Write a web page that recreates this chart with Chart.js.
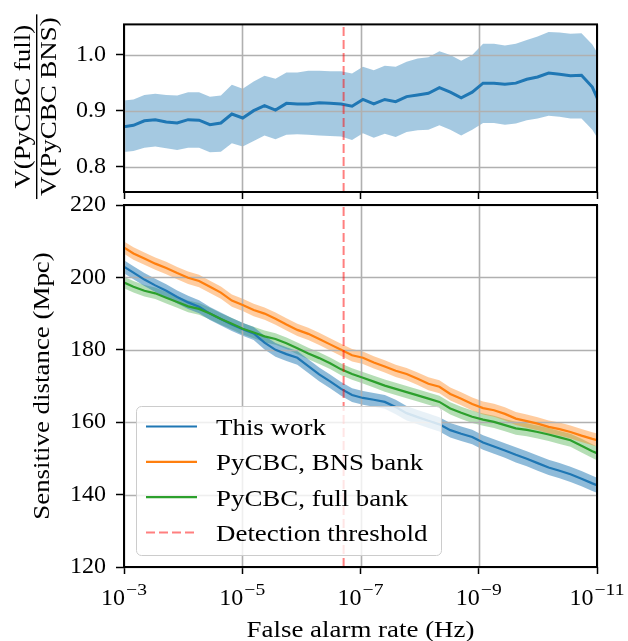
<!DOCTYPE html>
<html>
<head>
<meta charset="utf-8">
<script src="https://cdn.jsdelivr.net/npm/chart.js@4.4.1/dist/chart.umd.min.js"></script>
<style>
  html, body { margin: 0; padding: 0; background: #fff; }
  #wrap { position: relative; width: 628px; height: 641px; }
  #wrap canvas { position: absolute; left: 0; top: 0; }
</style>
</head>
<body>
<div id="wrap">
  <canvas id="ratio" width="628" height="641"></canvas>
  <canvas id="distance" width="628" height="641"></canvas>
</div>
<script>
const SERIF = '"Liberation Serif", "Times New Roman", serif';
const STRETCH = 1.17; // widen the serif text a bit so it sits like the TeX labels

// false alarm rates the curves are sampled at (Hz)
const farHz = [
  1.059e-3, 6.92e-4, 4.52e-4, 2.96e-4, 1.93e-4, 1.26e-4, 8.24e-5, 5.38e-5, 3.52e-5, 2.30e-5,
  1.50e-5, 9.82e-6, 6.41e-6, 4.20e-6, 2.74e-6, 1.79e-6, 1.17e-6, 7.64e-7, 5.00e-7, 3.27e-7,
  2.13e-7, 1.39e-7, 9.10e-8, 5.96e-8, 3.89e-8, 2.54e-8, 1.66e-8, 1.08e-8, 7.10e-9, 4.63e-9,
  3.03e-9, 1.98e-9, 1.29e-9, 8.45e-10, 5.52e-10, 3.61e-10, 2.36e-10, 1.54e-10, 1.01e-10, 6.58e-11,
  4.30e-11, 2.81e-11, 1.83e-11, 1.20e-11, 7.83e-12
];

// sensitive volume ratio, full bank over BNS bank
const ratioMid = [
  0.871, 0.874, 0.882, 0.884, 0.880, 0.878, 0.884, 0.883, 0.875, 0.878,
  0.894, 0.887, 0.900, 0.909, 0.901, 0.913, 0.912, 0.912, 0.914, 0.913,
  0.912, 0.908, 0.920, 0.912, 0.920, 0.916, 0.925, 0.928, 0.931, 0.941,
  0.933, 0.923, 0.933, 0.949, 0.949, 0.947, 0.949, 0.956, 0.960, 0.967,
  0.965, 0.962, 0.963, 0.942, 0.898
];
const ratioLow = [
  0.826, 0.828, 0.834, 0.836, 0.833, 0.830, 0.834, 0.834, 0.826, 0.827,
  0.842, 0.836, 0.846, 0.856, 0.849, 0.857, 0.858, 0.857, 0.856, 0.855,
  0.854, 0.848, 0.860, 0.852, 0.859, 0.853, 0.862, 0.865, 0.866, 0.874,
  0.866, 0.856, 0.866, 0.878, 0.878, 0.875, 0.877, 0.883, 0.886, 0.891,
  0.889, 0.886, 0.886, 0.866, 0.835
];
const ratioHigh = [
  0.918, 0.920, 0.928, 0.930, 0.928, 0.927, 0.933, 0.933, 0.925, 0.927,
  0.946, 0.939, 0.952, 0.962, 0.957, 0.968, 0.968, 0.971, 0.971, 0.970,
  0.970, 0.966, 0.978, 0.972, 0.980, 0.978, 0.987, 0.993, 0.995, 1.006,
  0.999, 0.989, 0.999, 1.019, 1.019, 1.016, 1.019, 1.026, 1.032, 1.040,
  1.039, 1.037, 1.038, 1.018, 0.985
];

// sensitive distance (Mpc) and its 1-sigma half width
const thisWork = [
  203.2, 201.3, 199.4, 197.8, 196.3, 194.6, 193.1, 191.9, 190.0, 188.5,
  187.0, 185.7, 184.5, 182.0, 180.0, 178.8, 177.8, 175.5, 173.2, 171.3,
  169.2, 167.5, 166.7, 166.2, 165.6, 164.2, 162.5, 161.4, 160.4, 159.4,
  157.8, 156.8, 155.9, 154.4, 153.3, 152.2, 151.0, 149.9, 148.7, 147.5,
  146.6, 145.6, 144.4, 143.1, 141.9
];
const thisWorkErr = [
  1.8, 1.8, 1.8, 1.8, 1.8, 1.8, 1.8, 1.8, 1.8, 1.8,
  1.8, 1.8, 1.8, 1.9, 1.9, 1.9, 1.9, 1.9, 1.9, 1.9,
  1.9, 1.9, 1.9, 1.9, 1.9, 2.0, 2.0, 2.0, 2.0, 2.0,
  2.0, 2.0, 2.0, 2.0, 2.0, 2.0, 2.1, 2.1, 2.1, 2.1,
  2.1, 2.1, 2.1, 2.1, 2.1
];
const bnsBank = [
  208.5, 206.6, 205.2, 203.8, 202.6, 201.2, 199.9, 199.0, 197.4, 195.8,
  193.6, 192.4, 191.0, 190.0, 188.6, 187.0, 185.5, 184.4, 183.0, 181.5,
  180.0, 178.5, 177.8, 176.5, 175.4, 174.2, 173.3, 172.0, 170.6, 169.8,
  167.8, 166.5, 165.0, 163.9, 163.3, 162.3, 161.0, 160.3, 159.6, 158.7,
  158.1, 157.3, 156.3, 155.4, 154.6
];
const bnsBankErr = [
  1.7, 1.7, 1.7, 1.7, 1.7, 1.7, 1.7, 1.7, 1.7, 1.7,
  1.7, 1.7, 1.7, 1.7, 1.7, 1.7, 1.7, 1.7, 1.7, 1.7,
  1.7, 1.7, 1.7, 1.7, 1.7, 1.7, 1.7, 1.7, 1.8, 1.8,
  1.8, 1.8, 1.8, 1.8, 1.8, 1.8, 1.8, 1.8, 1.8, 1.8,
  1.8, 1.8, 1.8, 1.8, 1.8
];
const fullBank = [
  198.8, 197.4, 196.3, 195.6, 194.4, 193.2, 192.0, 191.3, 190.0, 188.5,
  187.2, 185.8, 184.8, 183.7, 183.0, 181.8, 180.4, 179.0, 177.7, 176.3,
  174.6, 173.3, 172.3, 171.2, 170.1, 169.2, 168.3, 167.4, 166.5, 165.6,
  163.8, 162.6, 161.5, 160.7, 160.1, 159.2, 158.3, 157.9, 157.3, 156.6,
  155.8, 155.0, 153.5, 152.0, 150.6
];
const fullBankErr = [
  1.6, 1.6, 1.6, 1.6, 1.6, 1.6, 1.6, 1.6, 1.6, 1.6,
  1.6, 1.6, 1.6, 1.6, 1.6, 1.6, 1.6, 1.6, 1.6, 1.6,
  1.6, 1.6, 1.6, 1.6, 1.7, 1.7, 1.7, 1.7, 1.7, 1.7,
  1.7, 1.7, 1.7, 1.7, 1.7, 1.7, 1.8, 1.8, 1.8, 1.8,
  1.8, 1.8, 1.9, 1.9, 1.9
];

const thresholdHz = 1.93e-7;

const farTicks = [1e-3, 1e-5, 1e-7, 1e-9, 1e-11];
const ratioTicks = [0.8, 0.9, 1.0];
const distanceTicks = [120, 140, 160, 180, 200, 220];

const RATIO_MIN = 0.7552, RATIO_MAX = 1.0536;
const DIST_MIN = 120, DIST_MAX = 220;

const C0 = '#1f77b4', C1 = '#ff7f0e', C2 = '#2ca02c';
const THRESH_COLOR = 'rgba(255, 0, 0, 0.5)';

const pts = (ys) => farHz.map((x, i) => ({ x, y: ys[i] }));

function band(lo, hi, color) {
    return [
        { data: pts(hi), band: true, fill: '+1', backgroundColor: color, borderWidth: 0, pointRadius: 0, order: 2 },
        { data: pts(lo), band: true, fill: false, borderWidth: 0, pointRadius: 0, order: 2 },
    ];
}

function line(label, ys, color, width, order) {
    return { label, data: pts(ys), borderColor: color, borderWidth: width, pointRadius: 0, fill: false, tension: 0, order };
}

function threshold(ymin, ymax) {
    return {
        label: 'Detection threshold',
        data: [{ x: thresholdHz, y: ymin }, { x: thresholdHz, y: ymax }],
        borderColor: THRESH_COLOR, borderWidth: 2, borderDash: [9, 4],
        pointRadius: 0, fill: false, order: 0,
    };
}

function text(ctx, str, x, y, size, align, rotate) {
    ctx.save();
    ctx.translate(x, y);
    if (rotate) ctx.rotate(-Math.PI / 2);
    ctx.scale(STRETCH, 1);
    ctx.font = `${size}px ${SERIF}`;
    ctx.fillStyle = '#000';
    ctx.textAlign = align;
    ctx.textBaseline = 'alphabetic';
    ctx.fillText(str, 0, 0);
    ctx.restore();
}

function drawGrid(chart) {
    const { ctx, chartArea: a, scales } = chart;
    ctx.save();
    ctx.strokeStyle = '#b0b0b0';
    ctx.lineWidth = 1.6;
    ctx.beginPath();
    scales.x.ticks.forEach(t => {
        const px = Math.round(scales.x.getPixelForValue(t.value)) + 0.5;
        ctx.moveTo(px, a.top);
        ctx.lineTo(px, a.bottom);
    });
    scales.y.ticks.forEach(t => {
        const py = Math.round(scales.y.getPixelForValue(t.value)) + 0.5;
        ctx.moveTo(a.left, py);
        ctx.lineTo(a.right, py);
    });
    ctx.stroke();
    ctx.restore();
}

function drawFrame(chart) {
    const { ctx, chartArea: a } = chart;
    ctx.save();
    ctx.strokeStyle = '#000';
    ctx.lineWidth = 2;
    ctx.strokeRect(a.left, a.top, a.right - a.left, a.bottom - a.top);
    ctx.restore();
}

function drawPowerLabels(chart) {
    const { ctx, scales } = chart;
    scales.x.ticks.forEach(t => {
        const x = scales.x.getPixelForValue(t.value);
        const exp = Math.round(Math.log10(t.value));
        const base = '10';
        const sup = (exp < 0 ? '\u2212' : '') + Math.abs(exp);
        ctx.save();
        ctx.fillStyle = '#000';
        ctx.textBaseline = 'alphabetic';
        ctx.textAlign = 'left';
        ctx.font = `24px ${SERIF}`;
        const wb = ctx.measureText(base).width;
        ctx.font = `17px ${SERIF}`;
        const ws = ctx.measureText(sup).width * 1.15;
        const left = x - (wb + ws + 1) / 2;
        ctx.font = `24px ${SERIF}`;
        ctx.fillText(base, left, 605);
        ctx.translate(left + wb + 1, 595);
        ctx.scale(1.15, 1);
        ctx.font = `17px ${SERIF}`;
        ctx.fillText(sup, 0, 0);
        ctx.restore();
    });
}

function drawLegend(chart) {
    const ctx = chart.ctx;
    const x = 136.5, y = 406.5, w = 305, h = 149, r = 5;
    ctx.save();
    ctx.beginPath();
    ctx.moveTo(x + r, y);
    ctx.arcTo(x + w, y, x + w, y + h, r);
    ctx.arcTo(x + w, y + h, x, y + h, r);
    ctx.arcTo(x, y + h, x, y, r);
    ctx.arcTo(x, y, x + w, y, r);
    ctx.closePath();
    ctx.fillStyle = 'rgba(255, 255, 255, 0.8)';
    ctx.fill();
    ctx.strokeStyle = '#cccccc';
    ctx.lineWidth = 1;
    ctx.stroke();

    const entries = chart.data.datasets.filter(d => d.label);
    entries.forEach((d, i) => {
        const cy = 426.5 + i * 35.3;
        ctx.save();
        ctx.strokeStyle = d.borderColor;
        ctx.lineWidth = d.borderWidth;
        ctx.setLineDash(d.borderDash || []);
        ctx.beginPath();
        ctx.moveTo(146, cy);
        ctx.lineTo(197, cy);
        ctx.stroke();
        ctx.restore();
        text(ctx, d.label, 216, cy + 8.5, 23, 'left', false);
    });
    ctx.restore();
}

// grid goes over the shaded bands but under the curves
function panelPlugin(extra) {
    return {
        id: 'panel',
        beforeDatasetsDraw(chart) { chart.$gridDone = false; },
        beforeDatasetDraw(chart, args) {
            const ds = chart.data.datasets[args.index];
            if (ds.band || chart.$gridDone) return;
            chart.$gridDone = true;
            drawGrid(chart);
        },
        afterDatasetsDraw(chart) {
            if (extra.legend) drawLegend(chart);
        },
        afterDraw(chart) {
            drawFrame(chart);
            extra.labels(chart);
        },
    };
}

function scalesFor(ymin, ymax, yticks, yfmt, xHeight, showPowers) {
    return {
        x: {
            type: 'logarithmic',
            reverse: true,
            min: 1e-11,
            max: 1e-3,
            afterBuildTicks: s => { s.ticks = farTicks.map(v => ({ value: v })); },
            afterFit: s => { s.height = xHeight; },
            ticks: { display: false },
            grid: { drawOnChartArea: false, drawTicks: true, tickLength: 7, tickWidth: 1.5, tickColor: '#000', color: '#000' },
            border: { display: false },
        },
        y: {
            type: 'linear',
            min: ymin,
            max: ymax,
            afterBuildTicks: s => { s.ticks = yticks.map(v => ({ value: v })); },
            afterFit: s => { s.width = 124; },
            ticks: {
                callback: yfmt,
                font: { family: SERIF, size: 24 },
                color: '#000',
                padding: 10,
            },
            grid: { drawOnChartArea: false, drawTicks: true, tickLength: 8, tickWidth: 1.5, tickColor: '#000', color: '#000' },
            border: { display: false },
        },
    };
}

const baseOptions = (padTop) => ({
    responsive: false,
    animation: false,
    events: [],
    layout: { autoPadding: false, padding: { left: 0, right: 31, top: padTop, bottom: 0 } },
    plugins: { legend: { display: false }, tooltip: { enabled: false } },
    datasets: { line: { clip: 0 } },
});

// ratio panel
new Chart(document.getElementById('ratio'), {
    type: 'line',
    data: {
        datasets: [
            threshold(RATIO_MIN, RATIO_MAX),
            line('ratio', ratioMid, C0, 3, 1),
            ...band(ratioLow, ratioHigh, 'rgba(31, 119, 180, 0.4)'),
        ],
    },
    options: {
        ...baseOptions(10),
        scales: scalesFor(RATIO_MIN, RATIO_MAX, ratioTicks, v => Number(v).toFixed(1), 641 - 192, false),
    },
    plugins: [panelPlugin({
        legend: false,
        labels(chart) {
            const ctx = chart.ctx;
            const cy = (chart.chartArea.top + chart.chartArea.bottom) / 2 - 1.5;
            const num = 'V(PyCBC full)';
            const den = 'V(PyCBC BNS)';
            ctx.save();
            ctx.font = `23px ${SERIF}`;
            const barLen = Math.max(ctx.measureText(num).width, ctx.measureText(den).width) * STRETCH + 6;
            ctx.fillStyle = '#000';
            ctx.fillRect(36, cy - barLen / 2, 1.4, barLen);
            ctx.restore();
            text(ctx, num, 29.5, cy, 23, 'center', true);
            text(ctx, den, 55.5, cy, 23, 'center', true);
        },
    })],
});

// sensitive distance panel
new Chart(document.getElementById('distance'), {
    type: 'line',
    data: {
        datasets: [
            line('This work', thisWork, C0, 2.2, 1.3),
            line('PyCBC, BNS bank', bnsBank, C1, 2.2, 1.2),
            line('PyCBC, full bank', fullBank, C2, 2.2, 1.1),
            threshold(DIST_MIN, DIST_MAX),
            ...band(thisWork.map((v, i) => v - thisWorkErr[i]), thisWork.map((v, i) => v + thisWorkErr[i]), 'rgba(31, 119, 180, 0.5)'),
            ...band(bnsBank.map((v, i) => v - bnsBankErr[i]), bnsBank.map((v, i) => v + bnsBankErr[i]), 'rgba(255, 127, 14, 0.4)'),
            ...band(fullBank.map((v, i) => v - fullBankErr[i]), fullBank.map((v, i) => v + fullBankErr[i]), 'rgba(44, 160, 44, 0.35)'),
        ],
    },
    options: {
        ...baseOptions(205),
        scales: scalesFor(DIST_MIN, DIST_MAX, distanceTicks, v => String(v), 641 - 567, true),
    },
    plugins: [panelPlugin({
        legend: true,
        labels(chart) {
            const a = chart.chartArea;
            drawPowerLabels(chart);
            text(chart.ctx, 'False alarm rate (Hz)', (a.left + a.right) / 2, 637, 23, 'center', false);
            text(chart.ctx, 'Sensitive distance (Mpc)', 49, (a.top + a.bottom) / 2, 23, 'center', true);
        },
    })],
});
</script>
</body>
</html>
